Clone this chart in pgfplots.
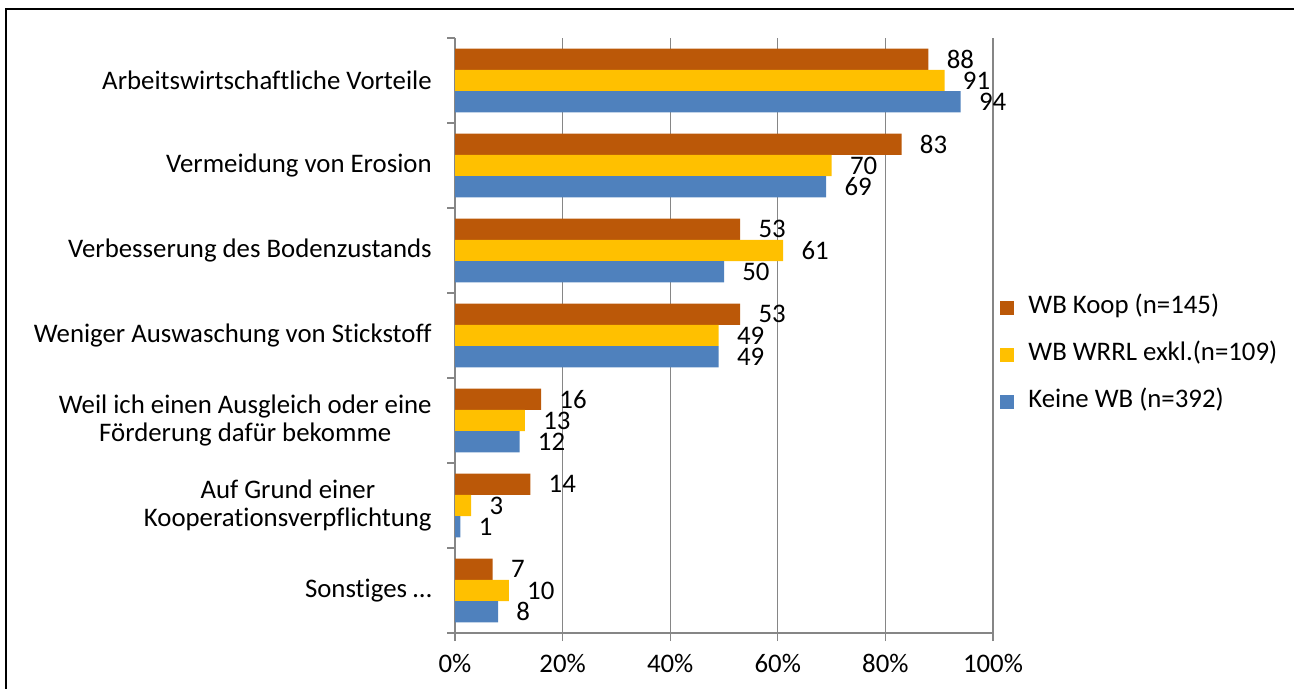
\documentclass[border=0pt]{standalone}
\usepackage{pgfplots}
\pgfplotsset{compat=1.18}
\usepackage{fontspec}
\setmainfont{Carlito}[Ligatures={NoCommon}]
\definecolor{koop}{RGB}{187,88,8}
\definecolor{wrrl}{RGB}{255,192,0}
\definecolor{keine}{RGB}{79,129,189}
\definecolor{axgray}{RGB}{134,134,134}
\begin{document}
\fontsize{13.4}{14}\selectfont
\begin{tikzpicture}
\path[use as bounding box] (0,0) rectangle (647pt,-344.5pt);
\draw[line width=1pt] (3pt,-344.5pt) -- (3pt,-4.5pt) -- (647pt,-4.5pt);
\begin{axis}[
  at={(227.5pt,-316.5pt)}, anchor=south west,
  scale only axis, width=269pt, height=297.5pt,
  xbar, bar width=0.25,
  xmin=0, xmax=100, ymin=-0.5, ymax=6.5,
  axis x line*=bottom, axis y line*=left,
  axis line style={axgray, line width=0.6pt},
  /pgf/number format/assume math mode=true,
  xtick={0,20,...,100},
  xticklabel={\pgfmathprintnumber{\tick}\%},
  xticklabel style={yshift=-2pt},
  xmajorgrids, grid style={axgray, line width=0.6pt},
  ytick={0,...,6},
  yticklabels={Sonstiges …,{Auf Grund einer\\Kooperationsverpflichtung},{Weil ich einen Ausgleich oder eine\\Förderung dafür bekomme},Weniger Auswaschung von Stickstoff,Verbesserung des Bodenzustands,Vermeidung von Erosion,Arbeitswirtschaftliche Vorteile},
  yticklabel style={align=center, xshift=-3pt},
  minor ytick={-0.5,0.5,...,6.5},
  tick align=outside, major tick length=4pt, minor tick length=4pt,
  major y tick style={draw=none},
  tick style={axgray, line width=0.6pt},
  nodes near coords, point meta=x,
  nodes near coords style={anchor=west, inner sep=0pt, xshift=9pt, text=black},
  legend cell align=left,
  legend style={draw=none, fill=none, at={(1,0.5)}, anchor=west, xshift=3.5pt, yshift=-9.5pt,
    inner sep=0pt, row sep=11.5pt,
    nodes={inner sep=0pt, text height=9pt, text depth=3pt},
    /tikz/every odd column/.append style={column sep=7pt}},
  legend image code/.code={\fill[#1] (0pt,-3.5pt) rectangle (7pt,3.5pt);},
]
\addplot[fill=koop, draw=none, bar shift=0.25] coordinates {(7,0) (14,1) (16,2) (53,3) (53,4) (83,5) (88,6)};
\addplot[fill=wrrl, draw=none, bar shift=0] coordinates {(10,0) (3,1) (13,2) (49,3) (61,4) (70,5) (91,6)};
\addplot[fill=keine, draw=none, bar shift=-0.25] coordinates {(8,0) (1,1) (12,2) (49,3) (50,4) (69,5) (94,6)};
\legend{WB Koop (n=145),WB WRRL exkl.(n=109),Keine WB (n=392)}
\end{axis}
\end{tikzpicture}
\end{document}
